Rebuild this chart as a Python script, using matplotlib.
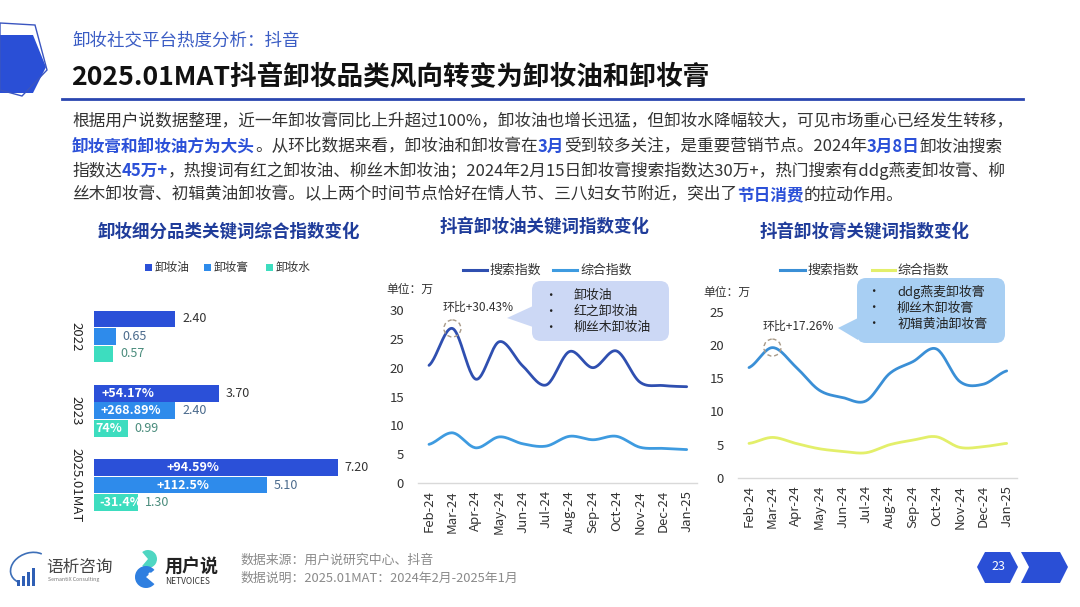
import numpy as np
import matplotlib
matplotlib.use('Agg')
import matplotlib.pyplot as plt
from matplotlib.patches import Polygon, FancyBboxPatch, Ellipse, Rectangle, Circle, Arc, Wedge
from matplotlib.lines import Line2D
from matplotlib.transforms import Affine2D

plt.rcParams['font.family'] = ['Noto Sans CJK SC', 'DejaVu Sans']

# ---------------- data ----------------
bar_groups = ['2022', '2023', '2025.01MAT']
bar_series = ['卸妆油', '卸妆膏', '卸妆水']
oil_vals = [2.40, 3.70, 7.20]
cream_vals = [0.65, 2.40, 5.10]
water_vals = [0.57, 0.99, 1.30]
oil_growth = ['', '+54.17%', '+94.59%']
cream_growth = ['', '+268.89%', '+112.5%']
water_growth = ['', '74%', '-31.4%']

months = ['Feb-24', 'Mar-24', 'Apr-24', 'May-24', 'Jun-24', 'Jul-24',
          'Aug-24', 'Sep-24', 'Oct-24', 'Nov-24', 'Dec-24', 'Jan-25']
oil_search = [20.4, 26.8, 18.0, 24.5, 20.3, 17.0, 22.8, 20.0, 22.9, 17.5, 16.9, 16.7]
oil_comp = [6.7, 8.7, 6.1, 8.0, 6.8, 6.4, 8.1, 7.5, 8.1, 6.2, 6.0, 5.8]
cream_search = [16.6, 19.6, 16.7, 13.2, 12.1, 11.6, 15.7, 17.5, 19.4, 14.5, 14.1, 16.1]
cream_comp = [5.2, 6.1, 5.2, 4.4, 4.0, 3.8, 5.0, 5.7, 6.2, 4.6, 4.7, 5.2]
line_labels = ['搜索指数', '综合指数']
oil_keywords = ['卸妆油', '红之卸妆油', '柳丝木卸妆油']
cream_keywords = ['ddg燕麦卸妆膏', '柳丝木卸妆膏', '初辑黄油卸妆膏']
oil_mom = '环比+30.43%'
cream_mom = '环比+17.26%'

# ---------------- styles ----------------
W, H = 1080, 607
C_OIL = '#2B50D8'
C_CREAM = '#2E8BEB'
C_WATER = '#3DDDBF'
C_TITLE = '#1F3C9A'
C_HL = '#2B50D8'
C_TEXT = '#333333'

fig = plt.figure(figsize=(W / 100, H / 100), dpi=100)
fig.patch.set_facecolor('white')
PX = Affine2D().scale(1 / W, -1 / H).translate(0, 1) + fig.transFigure


def fx(x):
    return x / W


def fy(y):
    return 1 - y / H


def rect(l, t, r, b):
    return [l / W, 1 - b / H, (r - l) / W, (b - t) / H]


def txt(x, y, s, **kw):
    return fig.text(fx(x), fy(y), s, **kw)


def smooth(xs, ys, n=24):
    xs = np.asarray(xs, float)
    ys = np.asarray(ys, float)
    px = np.concatenate([[2 * xs[0] - xs[1]], xs, [2 * xs[-1] - xs[-2]]])
    py = np.concatenate([[ys[0]], ys, [ys[-1]]])
    ox, oy = [], []
    for i in range(1, len(px) - 2):
        t = np.linspace(0, 1, n, endpoint=False)
        for arr, out in ((px, ox), (py, oy)):
            p0, p1, p2, p3 = arr[i - 1], arr[i], arr[i + 1], arr[i + 2]
            out.extend(0.5 * ((2 * p1) + (-p0 + p2) * t + (2 * p0 - 5 * p1 + 4 * p2 - p3) * t ** 2
                              + (-p0 + 3 * p1 - 3 * p2 + p3) * t ** 3))
    ox.append(xs[-1])
    oy.append(ys[-1])
    return np.array(ox), np.array(oy)


# ---------------- header ----------------
fig.patches.append(Polygon([(0, 35), (33, 35), (46, 67), (33, 93), (0, 93)], closed=True,
                           facecolor='#2A4FD6', edgecolor='none', transform=PX))
fig.patches.append(Polygon([(0, 23), (35, 25), (47, 70), (22, 96), (0, 90)], closed=True,
                           facecolor='none', edgecolor='#3A55C0', lw=1.0, transform=PX))
txt(72, 41, '卸妆社交平台热度分析：抖音', fontsize=12.6, color='#3A5CC4', va='center', ha='left')
txt(71, 78, '2025.01MAT抖音卸妆品类风向转变为卸妆油和卸妆膏', fontsize=19.2, fontweight='heavy',
    color='#111111', va='center', ha='left')
fig.lines.append(Line2D([62, 1023], [98.5, 98.5], color='#2A46B0', lw=2.0, transform=PX))

para = [
    [('根据用户说数据整理，近一年卸妆膏同比上升超过100%，卸妆油也增长迅猛，但卸妆水降幅较大，可见市场重心已经发生转移，', False)],
    [('卸妆膏和卸妆油方为大头', True), ('。从环比数据来看，卸妆油和卸妆膏在', False), ('3月', True),
     ('受到较多关注，是重要营销节点。2024年', False), ('3月8日', True), ('卸妆油搜索', False)],
    [('指数达', False), ('45万+', True),
     ('，热搜词有红之卸妆油、柳丝木卸妆油；2024年2月15日卸妆膏搜索指数达30万+，热门搜索有ddg燕麦卸妆膏、柳', False)],
    [('丝木卸妆膏、初辑黄油卸妆膏。以上两个时间节点恰好在情人节、三八妇女节附近，突出了', False), ('节日消费', True),
     ('的拉动作用。', False)],
]
para_y = [122, 147, 171, 195]
renderer = fig.canvas.get_renderer()
for line, y in zip(para, para_y):
    x = 72
    for s, hl in line:
        t = txt(x, y, s, fontsize=12, color=C_HL if hl else C_TEXT,
                fontweight='bold' if hl else 'normal', va='center', ha='left')
        bb = t.get_window_extent(renderer)
        x += bb.width * W / fig.bbox.width

# ---------------- bar chart ----------------
axb = fig.add_axes(rect(94, 299.3, 365, 522.2))
yb = np.arange(len(bar_groups))
bh = 0.225
off = 0.2355
series = [(oil_vals, C_OIL, oil_growth, '#333333', -off),
          (cream_vals, C_CREAM, cream_growth, '#4A6A8C', 0),
          (water_vals, C_WATER, water_growth, '#4A8C7C', off)]
for vals, col, growth, lcol, o in series:
    bars = axb.barh(yb + o, vals, height=bh, color=col, edgecolor='none')
    for bar, v in zip(bars, vals):
        axb.text(bar.get_width() + 0.2, bar.get_y() + bar.get_height() / 2, f'{v:.2f}',
                 va='center', ha='left', fontsize=9, color=lcol)
inner_pos = {  # (series index, group index): (x, ha)
    (0, 1): (0.22, 'left'), (1, 1): (0.2, 'left'), (2, 1): (0.03, 'left'),
    (0, 2): (2.92, 'center'), (1, 2): (2.63, 'center'), (2, 2): (0.17, 'left'),
}
for (si, gi), (xp, ha) in inner_pos.items():
    vals, col, growth, lcol, o = series[si]
    axb.text(xp, gi + o, growth[gi], va='center', ha=ha, fontsize=9, color='white', fontweight='bold')
axb.set_xlim(0, 8)
axb.set_ylim(2.5, -0.5)
axb.set_xticks([])
axb.set_yticks(yb)
axb.set_yticklabels(bar_groups, rotation=-90, va='center', fontsize=9.5, color='#222222')
axb.tick_params(axis='y', length=0, pad=8)
for sp in axb.spines.values():
    sp.set_visible(False)
axb.patch.set_alpha(0)

txt(229, 232, '卸妆细分品类关键词综合指数变化', fontsize=12.6, fontweight='bold', color=C_TITLE,
    ha='center', va='center')
leg_items = [(145, C_OIL), (204, C_CREAM), (266, C_WATER)]
for (lx, col), name in zip(leg_items, bar_series):
    fig.patches.append(Rectangle((lx, 263.5), 7, 7, facecolor=col, edgecolor='none', transform=PX))
    txt(lx + 10, 267, name, fontsize=8.4, color='#333333', ha='left', va='center')


# ---------------- line charts ----------------
def line_chart(l, r, t, b, ymax, ystep, s1, s2, c1, c2):
    ax = fig.add_axes(rect(l, t, r, b))
    xi = np.arange(len(months))
    for vals, col in ((s1, c1), (s2, c2)):
        sx, sy = smooth(xi, vals)
        ax.plot(sx, sy, color=col, lw=2.0, solid_capstyle='round')
    ax.set_xlim(-0.469, 11.44)
    ax.set_ylim(0, ymax)
    ax.set_yticks(np.arange(0, ymax + 0.1, ystep))
    ax.set_xticks(xi)
    ax.set_xticklabels(months, rotation=90, fontsize=9.5, color='#333333')
    ax.tick_params(axis='both', length=0, labelsize=9.5, labelcolor='#333333')
    ax.tick_params(axis='y', pad=10)
    ax.tick_params(axis='x', pad=5)
    for k in ('top', 'right', 'left'):
        ax.spines[k].set_visible(False)
    ax.spines['bottom'].set_color('#D9D9D9')
    ax.spines['bottom'].set_linewidth(1.0)
    ax.patch.set_alpha(0)
    return ax


OIL_S, OIL_C = '#2F4FB0', '#3E9BE0'
CR_S, CR_C = '#3A8FD6', '#E3EF6A'

axm = line_chart(418, 697, 310, 483, 30, 5, oil_search, oil_comp, OIL_S, OIL_C)
axr = line_chart(738, 1017, 311.7, 478, 25, 5, cream_search, cream_comp, CR_S, CR_C)

txt(545, 227, '抖音卸妆油关键词指数变化', fontsize=12.6, fontweight='bold', color=C_TITLE, ha='center', va='center')
txt(865, 232, '抖音卸妆膏关键词指数变化', fontsize=12.6, fontweight='bold', color=C_TITLE, ha='center', va='center')

for (x1, x2, tx), name, col in zip([(463, 487, 489), (553, 577, 580)], line_labels, [OIL_S, OIL_C]):
    fig.lines.append(Line2D([x1, x2], [270, 270], color=col, lw=2.2, transform=PX))
    txt(tx, 270, name, fontsize=9.3, color='#333333', ha='left', va='center')
for (x1, x2, tx), name, col in zip([(780, 805, 807), (872, 895, 897)], line_labels, [CR_S, CR_C]):
    fig.lines.append(Line2D([x1, x2], [270, 270], color=col, lw=2.2, transform=PX))
    txt(tx, 270, name, fontsize=9.3, color='#333333', ha='left', va='center')

txt(386, 289, '单位：万', fontsize=8.5, color='#333333', ha='left', va='center')
txt(703, 292, '单位：万', fontsize=8.5, color='#333333', ha='left', va='center')

# annotations: dashed circles at March peaks
fig.canvas.draw()
for ax, vals, label, ly in ((axm, oil_search, oil_mom, 307), (axr, cream_search, cream_mom, 326)):
    dx, dy = ax.transData.transform((1, vals[1]))
    cx = dx * W / fig.bbox.width
    cy = H - dy * H / fig.bbox.height
    fig.patches.append(Ellipse((cx, cy), 17, 17, facecolor='none', edgecolor='#A89A88',
                               lw=1.0, ls=(0, (3, 2)), transform=PX))
    txt(cx - 10, ly, label, fontsize=8.6, color='#333333', ha='left', va='center')


# callouts
def callout(l, t, r, b, tip, base_y1, base_y2, color, items, bx, tx):
    fig.patches.append(FancyBboxPatch((l, t), r - l, b - t,
                                      boxstyle='round,pad=0,rounding_size=9',
                                      facecolor=color, edgecolor='none', transform=PX))
    fig.patches.append(Polygon([(l + 1, base_y1), tip, (l + 1, base_y2)], closed=True,
                               facecolor=color, edgecolor='none', transform=PX))
    for i, s in enumerate(items):
        yy = t + 14 + i * 16
        txt(bx, yy, '•', fontsize=9, color='#222222', ha='center', va='center')
        txt(tx, yy, s, fontsize=9.3, color='#222222', ha='left', va='center')


callout(532, 281, 669, 341, (507, 318), 306, 327, '#CCD8F5', oil_keywords, 550, 574)
callout(857, 278, 1005, 343, (838, 328), 318, 340, '#A8CFF3', cream_keywords, 873, 897)

# ---------------- footer ----------------
# 语析咨询 logo
fig.patches.append(Arc((30, 568), 40, 30, angle=-20, theta1=150, theta2=330,
                       color='#3D6FB8', lw=1.2, transform=PX))
for i, hgt in enumerate([6, 10, 14, 18]):
    fig.patches.append(Rectangle((17 + i * 5, 586 - hgt), 3, hgt, facecolor='#2F5FB5',
                                 edgecolor='none', transform=PX))
txt(46, 567, '语析咨询', fontsize=12, color='#444444', ha='left', va='center')
txt(48, 580, 'SemantiX Consulting', fontsize=3.8, color='#777777', ha='left', va='center')
# 用户说 logo
fig.patches.append(Wedge((148, 559), 9, 230, 130 + 360, facecolor='#4FD6C2', edgecolor='none', transform=PX))
fig.patches.append(Wedge((146, 577), 11, 40, 320, facecolor='#2F7FE0', edgecolor='none', transform=PX))
fig.patches.append(Circle((150, 574), 1.5, facecolor='white', edgecolor='none', transform=PX))
txt(165, 567, '用户说', fontsize=13, fontweight='bold', color='#222222', ha='left', va='center')
txt(165, 581, 'NETVOICES', fontsize=6, color='#333333', ha='left', va='center')

txt(240, 560, '数据来源：用户说研究中心、抖音', fontsize=9.3, color='#8A8A8A', ha='left', va='center')
txt(240, 578, '数据说明：2025.01MAT：2024年2月-2025年1月', fontsize=9.3, color='#8A8A8A', ha='left', va='center')

fig.patches.append(Polygon([(977, 567), (985, 552), (1010, 552), (1018, 567), (1010, 583), (985, 583)],
                           closed=True, facecolor='#2A4FD6', edgecolor='none', transform=PX))
fig.patches.append(Polygon([(1021, 552), (1060, 552), (1068, 567), (1060, 583), (1021, 583), (1029, 567)],
                           closed=True, facecolor='#2A4FD6', edgecolor='none', transform=PX))
txt(998, 567, '23', fontsize=9, color='white', ha='center', va='center')

fig.savefig('out.png', dpi=100, facecolor='white')
